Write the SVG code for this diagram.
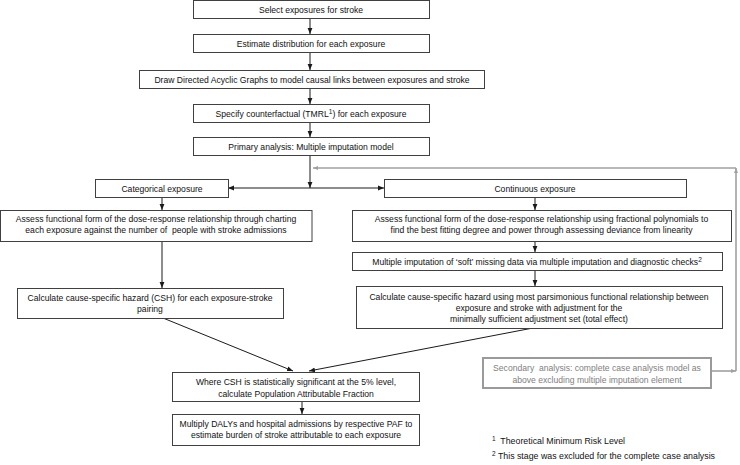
<svg xmlns="http://www.w3.org/2000/svg" width="740" height="465" viewBox="0 0 740 465">
<style>
  .box { fill: #ffffff; stroke: #404040; stroke-width: 1; }
  .gbox { fill: #ffffff; stroke: #9a9a9a; stroke-width: 2; }
  text { font-family: "Liberation Sans", Arial, sans-serif; font-size: 8.6px; fill: #111111; text-anchor: middle; white-space: pre; }
  .gt { fill: #808080; }
  .fn { text-anchor: start; font-size: 8.8px; }
  .sup { font-size: 6.5px; }
  .ln { stroke: #1a1a1a; stroke-width: 1; fill: none; marker-end: url(#ah); }
  .gl { stroke: #a0a0a0; stroke-width: 1.6; fill: none; marker-end: url(#gah); }
</style>
<defs>
  <marker id="ah" viewBox="0 0 10 10" refX="10" refY="5" markerWidth="6" markerHeight="6" markerUnits="userSpaceOnUse" orient="auto">
    <path d="M0,1 L10,5 L0,9 z" fill="#1a1a1a"/>
  </marker>
  <marker id="gah" viewBox="0 0 10 10" refX="10" refY="5" markerWidth="5" markerHeight="5" markerUnits="userSpaceOnUse" orient="auto">
    <path d="M0,1 L10,5 L0,9 z" fill="#a0a0a0"/>
  </marker>
</defs>
<rect width="740" height="465" fill="#ffffff"/>

<g id="connectors">
  <path class="ln" d="M310,18 V34"/>
  <path class="ln" d="M310,52 V70"/>
  <path class="ln" d="M310,88 V104"/>
  <path class="ln" d="M310,122 V137"/>
  <path class="ln" d="M310,155 V188"/>
  <path class="ln" d="M310,188 H228"/>
  <path class="ln" d="M310,188 H384"/>
  <path class="ln" d="M162,197 V210"/>
  <path class="ln" d="M162,241 V288"/>
  <path class="ln" d="M535,197 V210"/>
  <path class="ln" d="M535,241 V252"/>
  <path class="ln" d="M535,270 V286"/>
  <path class="ln" d="M163,318 L293,371"/>
  <path class="ln" d="M533,328 L309,371"/>
  <path class="ln" d="M302,401 V414"/>
  <path class="gl" d="M712,371 H736"/>
  <path class="gl" d="M736,371 V168"/>
  <path class="gl" d="M736,168 H313"/>
</g>

<g id="n1">
  <rect class="box" x="193.5" y="0.5" width="236" height="18"/>
  <text x="311" y="12.5">Select exposures for stroke</text>
</g>
<g id="n2">
  <rect class="box" x="193.5" y="34.5" width="236" height="18"/>
  <text x="311" y="46.5">Estimate distribution for each exposure</text>
</g>
<g id="n3">
  <rect class="box" x="139.5" y="70.5" width="345" height="18"/>
  <text x="312" y="82.5">Draw Directed Acyclic Graphs to model causal links between exposures and stroke</text>
</g>
<g id="n4">
  <rect class="box" x="193.5" y="104.5" width="236" height="18"/>
  <text x="311" y="116.5">Specify counterfactual (TMRL<tspan class="sup" dy="-3">1</tspan><tspan dy="3">) for each exposure</tspan></text>
</g>
<g id="n5">
  <rect class="box" x="193.5" y="137.5" width="236" height="18"/>
  <text x="311" y="149.5">Primary analysis: Multiple imputation model</text>
</g>
<g id="cat">
  <rect class="box" x="95.5" y="179.5" width="133" height="18"/>
  <text x="162" y="191.5">Categorical exposure</text>
</g>
<g id="cont">
  <rect class="box" x="384.5" y="179.5" width="302" height="18"/>
  <text x="535" y="191.5">Continuous exposure</text>
</g>
<g id="assessL">
  <rect class="box" x="0.5" y="210.5" width="311.5" height="31"/>
  <text x="156" y="222">Assess functional form of the dose-response relationship through charting</text>
  <text x="156" y="233" xml:space="preserve">each exposure against the number of  people with stroke admissions</text>
</g>
<g id="assessR">
  <rect class="box" x="352.5" y="210.5" width="379" height="31"/>
  <text x="541.5" y="222">Assess functional form of the dose-response relationship using fractional polynomials to</text>
  <text x="541.5" y="233">find the best fitting degree and power through assessing deviance from linearity</text>
</g>
<g id="mi">
  <rect class="box" x="352.5" y="252.5" width="370" height="18"/>
  <text x="537" y="264.5">Multiple imputation of ‘soft’ missing data via multiple imputation and diagnostic checks<tspan class="sup" dy="-3">2</tspan></text>
</g>
<g id="cshL">
  <rect class="box" x="17.5" y="288.5" width="266" height="30"/>
  <text x="150" y="301">Calculate cause-specific hazard (CSH) for each exposure-stroke</text>
  <text x="150" y="312">pairing</text>
</g>
<g id="calcR">
  <rect class="box" x="356.5" y="286.5" width="366" height="42"/>
  <text x="539" y="300">Calculate cause-specific hazard using most parsimonious functional relationship between</text>
  <text x="539" y="311">exposure and stroke with adjustment for the</text>
  <text x="539" y="322">minimally sufficient adjustment set (total effect)</text>
</g>
<g id="secondary">
  <rect class="gbox" x="483" y="358" width="228" height="30"/>
  <text class="gt" x="597" y="371" xml:space="preserve">Secondary  analysis: complete case analysis model as</text>
  <text class="gt" x="597" y="383">above excluding multiple imputation element</text>
</g>
<g id="where">
  <rect class="box" x="172.5" y="372.5" width="247" height="29"/>
  <text x="296" y="385">Where CSH is statistically significant at the 5% level,</text>
  <text x="296" y="396.5">calculate Population Attributable Fraction</text>
</g>
<g id="multiply">
  <rect class="box" x="172.5" y="414.5" width="247" height="31"/>
  <text x="296" y="426.5">Multiply DALYs and hospital admissions by respective PAF to</text>
  <text x="296" y="437.5">estimate burden of stroke attributable to each exposure</text>
</g>
<g id="footnotes">
  <text class="fn" x="492" y="444" xml:space="preserve"><tspan class="sup" dy="-3">1</tspan><tspan dy="3">  Theoretical Minimum Risk Level</tspan></text>
  <text class="fn" x="492" y="459"><tspan class="sup" dy="-3">2</tspan><tspan dy="3"> This stage was excluded for the complete case analysis</tspan></text>
</g>
</svg>
